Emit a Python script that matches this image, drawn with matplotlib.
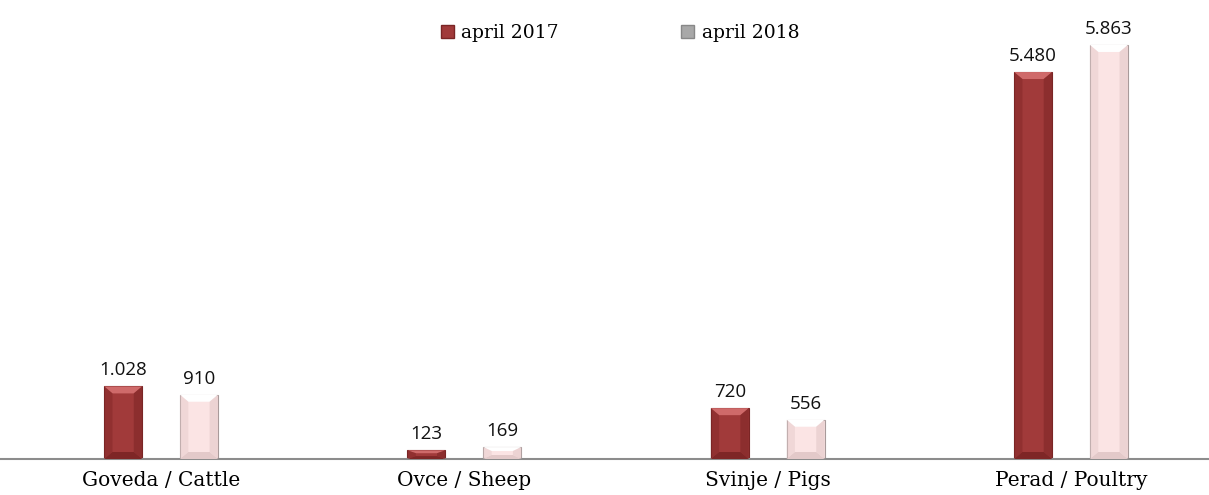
import matplotlib
matplotlib.use("Agg")
import matplotlib.pyplot as plt
from matplotlib.patches import Polygon, Patch
import numpy as np

categories = ["Goveda / Cattle", "Ovce / Sheep", "Svinje / Pigs", "Perad / Poultry"]
series_names = ["april 2017", "april 2018"]
values_2017 = [1028, 123, 720, 5480]
values_2018 = [910, 169, 556, 5863]


def fmt_thousands(v):
    # European style: dot as thousands separator
    return f"{v:,}".replace(",", ".")


def beveled_bar(ax, x, w, h, face, light, dark, edge, bev_x, bev_y):
    """Draw a bar with a small bevel so it looks like the Excel 3D style."""
    bx = min(bev_x, w / 3)
    by = min(bev_y, h / 3)
    l, r = x - w / 2, x + w / 2
    ax.add_patch(Polygon([(l, 0), (r, 0), (r, h), (l, h)], closed=True,
                         facecolor=face, edgecolor=edge, linewidth=0.8, zorder=2))
    # top face
    ax.add_patch(Polygon([(l, h), (r, h), (r - bx, h - by), (l + bx, h - by)],
                         closed=True, facecolor=light, edgecolor="none", zorder=3))
    # bottom face
    ax.add_patch(Polygon([(l, 0), (r, 0), (r - bx, by), (l + bx, by)],
                         closed=True, facecolor=dark, edgecolor="none", zorder=3))
    # sides
    ax.add_patch(Polygon([(l, 0), (l + bx, by), (l + bx, h - by), (l, h)],
                         closed=True, facecolor=dark, edgecolor="none", alpha=0.45, zorder=3))
    ax.add_patch(Polygon([(r, 0), (r - bx, by), (r - bx, h - by), (r, h)],
                         closed=True, facecolor=dark, edgecolor="none", alpha=0.6, zorder=3))


fig = plt.figure(figsize=(12.09, 4.95), dpi=100)
ax = fig.add_axes([0.0, 36 / 495, 1.0, 459 / 495])

x = np.arange(len(categories))
width = 0.125
offset = 0.125

styles = [
    dict(face="#a13a3a", light="#cf6a6a", dark="#7e2626", edge="#7a2525"),
    dict(face="#fbe4e4", light="#ffffff", dark="#e3c9c9", edge="#a89a9a"),
]

ymax = 6500
bev_y = 7 * ymax / 459  # ~7 px
for vals, dx, st in [(values_2017, -offset, styles[0]), (values_2018, offset, styles[1])]:
    for xi, v in zip(x, vals):
        beveled_bar(ax, xi + dx, width, v, st["face"], st["light"], st["dark"],
                    st["edge"], width * 0.22, bev_y)
        ax.annotate(fmt_thousands(v), (xi + dx, v), xytext=(0, 5),
                    textcoords="offset points", ha="center", va="bottom",
                    fontsize=13.5, family="Open Sans", color="#111111")

ax.set_xlim(-0.531, 3.455)
ax.set_ylim(0, ymax)
for s in ["top", "left", "right"]:
    ax.spines[s].set_visible(False)
ax.spines["bottom"].set_color("#8c8c8c")
ax.spines["bottom"].set_linewidth(1.5)
ax.set_yticks([])
ax.set_xticks(x)
ax.set_xticklabels(categories, fontsize=14.5, family="DejaVu Serif")
ax.tick_params(axis="x", length=0, pad=9)

handles = [
    Patch(facecolor="#a13a3a", edgecolor="#7a2525", label=series_names[0]),
    Patch(facecolor="#a8a8a8", edgecolor="#888888", label=series_names[1]),
]
fig.legend(handles=handles, loc="center", bbox_to_anchor=(620 / 1209, 1 - 33 / 495),
           ncol=2, frameon=False, prop={"family": "DejaVu Serif", "size": 13.5},
           handlelength=0.7, handleheight=0.7, handletextpad=0.4, columnspacing=6.5)

fig.savefig("out.png", dpi=100)
